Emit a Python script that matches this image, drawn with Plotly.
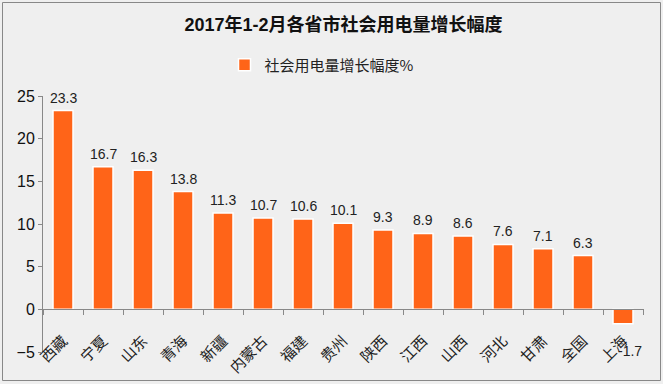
import plotly.graph_objects as go

categories = ["西藏", "宁夏", "山东", "青海", "新疆", "内蒙古", "福建", "贵州",
              "陕西", "江西", "山西", "河北", "甘肃", "全国", "上海"]
values = [23.3, 16.7, 16.3, 13.8, 11.3, 10.7, 10.6, 10.1, 9.3, 8.9, 8.6, 7.6, 7.1, 6.3, -1.7]
series_name = "社会用电量增长幅度%"
title_text = "2017年1-2月各省市社会用电量增长幅度"
y_ticks = [-5, 0, 5, 10, 15, 20, 25]

W, H = 663, 384
L, R, T, B = 43, 19, 96, 32
pw, ph = W - L - R, H - T - B

def px_x(x):
    return (x - L) / pw

def px_y(y):
    return (H - B - y) / ph

fig = go.Figure()
fig.add_trace(go.Bar(
    x=categories, y=values, name=series_name, showlegend=True,
    marker=dict(color="#FF6418", line=dict(color="white", width=1.5)),
    width=0.5, cliponaxis=False,
))

for c, v in zip(categories, values):
    if v >= 0:
        fig.add_annotation(x=c, y=v, text=f"{v:.1f}", showarrow=False,
                           yanchor="bottom", yshift=3,
                           font=dict(family="Arial, Liberation Sans", size=14, color="#222"))
    else:
        fig.add_annotation(x=c, y=v, text=f"{v:.1f}", showarrow=False,
                           yanchor="top", yshift=-17, xshift=7,
                           font=dict(family="Arial, Liberation Sans", size=14, color="#222"))

fig.update_layout(
    width=W, height=H,
    margin=dict(l=L, r=R, t=T, b=B, autoexpand=False),
    paper_bgcolor="#efefef", plot_bgcolor="rgba(0,0,0,0)",
    title=dict(text=f"<b>{title_text}</b>", x=0.5, xref="paper", xanchor="center",
               y=1 - 25 / H, yref="container", yanchor="middle",
               font=dict(family="Liberation Sans, Arial, Noto Sans CJK SC", size=18, color="#111")),
    legend=dict(orientation="h", x=px_x(322), xanchor="center", y=px_y(65), yanchor="middle",
                bgcolor="rgba(0,0,0,0)",
                font=dict(family="Noto Sans CJK SC", size=15, color="#222")),
    xaxis=dict(anchor="free", position=5 / 30, showline=True, linecolor="#888", linewidth=1,
               ticks="outside", ticklen=5, tickcolor="#888", tickson="boundaries",
               tickangle=-45, ticklabelstandoff=16,
               tickfont=dict(family="Noto Sans CJK SC", size=15, color="#222"),
               showgrid=False, zeroline=False, automargin=False),
    yaxis=dict(range=[-5, 25], tickvals=y_ticks, showline=True, linecolor="#888", linewidth=1,
               ticks="outside", ticklen=4, tickcolor="#888", showgrid=False, zeroline=False,
               tickfont=dict(family="Arial, Liberation Sans", size=16, color="#111"),
               automargin=False),
    bargap=0.5,
    shapes=[dict(type="rect", xref="paper", yref="paper",
                 x0=px_x(2.5), x1=px_x(660.5), y0=px_y(H - 3.5), y1=px_y(2.5),
                 line=dict(color="#888", width=1), fillcolor="rgba(0,0,0,0)", layer="below")],
)

fig.write_html("out.html", config={"displayModeBar": False},
               post_script="document.body.style.margin='0';document.body.style.overflow='hidden';")
